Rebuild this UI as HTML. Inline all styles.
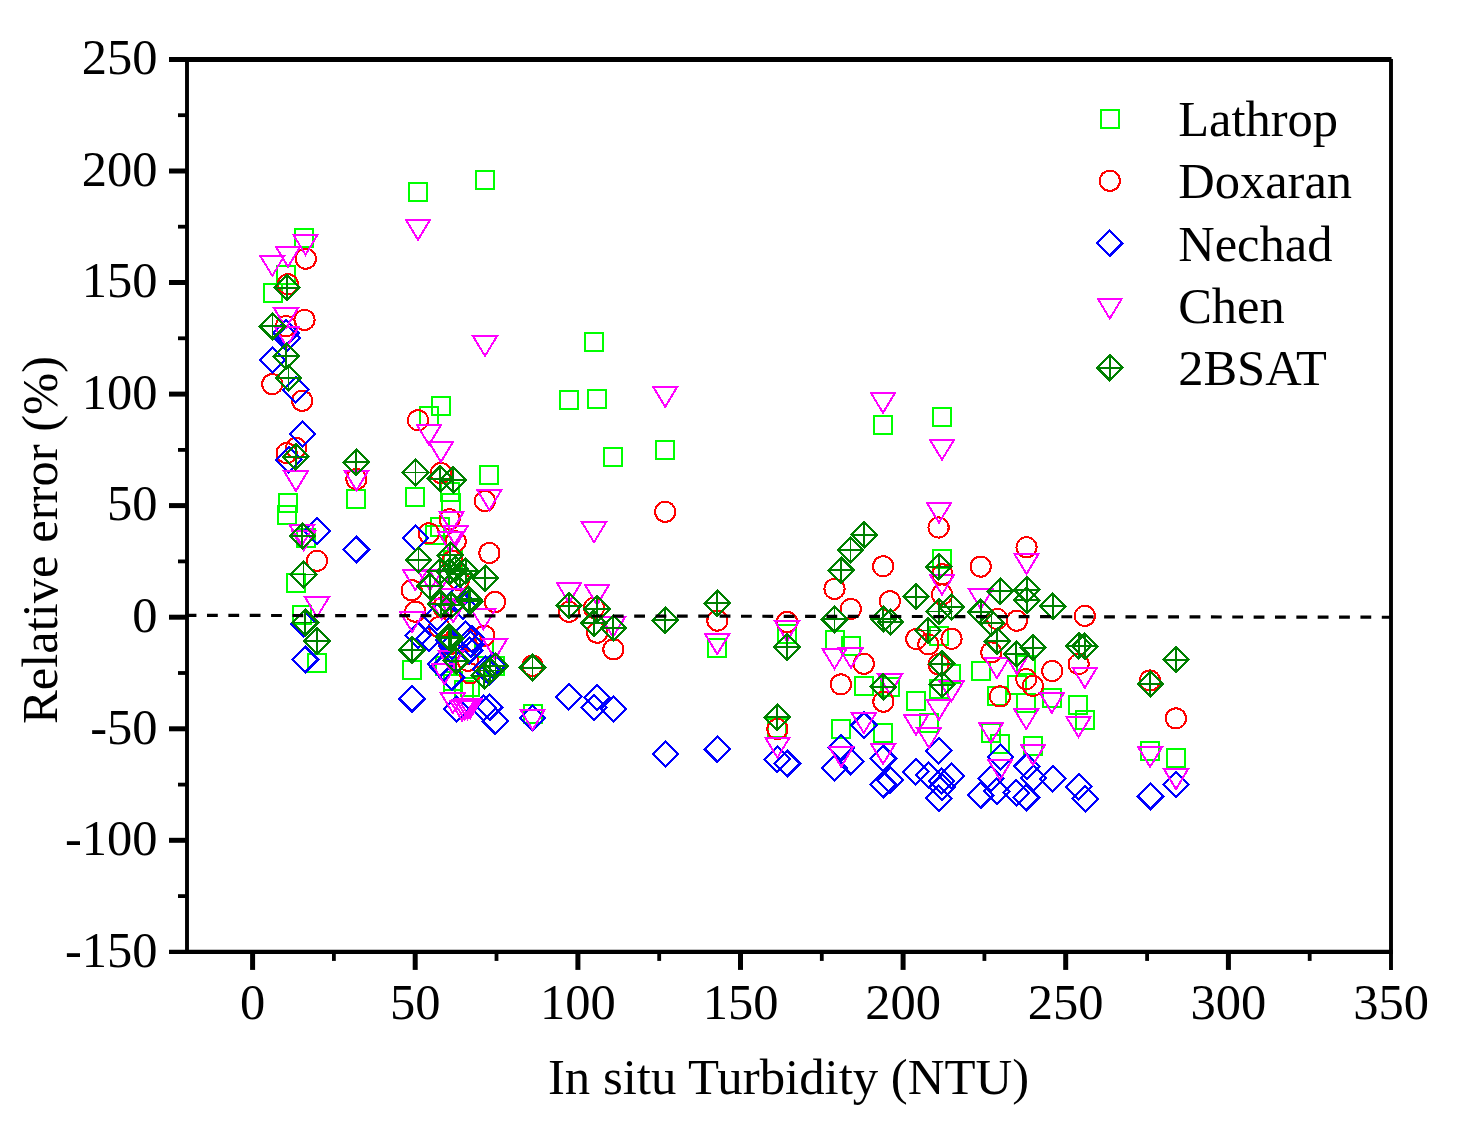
<!DOCTYPE html><html><head><meta charset="utf-8"><title>Relative error vs In situ Turbidity</title>
<style>html,body{margin:0;padding:0;background:#fff}svg{display:block}text{font-family:"Liberation Serif",serif;fill:#000}</style></head><body>
<svg width="1462" height="1124" viewBox="0 0 1462 1124">
<rect width="1462" height="1124" fill="#fff"/>
<defs>
<rect id="mL" x="-9" y="-9" width="18" height="18" fill="none" stroke="#00ff00" stroke-width="2.0"/>
<circle id="mD" r="10.1" fill="none" stroke="#ff0000" stroke-width="2.0"/>
<path id="mN" d="M0-12.6L12.6 0L0 12.6L-12.6 0Z" fill="none" stroke="#0000ff" stroke-width="2.2" stroke-linejoin="miter"/>
<path id="mC" d="M-12 -10.4L12 -10.4L0 9.5Z" fill="none" stroke="#ff00ff" stroke-width="2.0" stroke-linejoin="miter"/>
<g id="mB" fill="none" stroke="#008000"><path d="M0-12.6L12.6 0L0 12.6L-12.6 0Z" stroke-width="2.2"/><path d="M0-12.6V12.6M-12.6 0H12.6" stroke-width="1.9"/></g>
</defs>
<g shape-rendering="crispEdges">
<use href="#mL" x="303.8" y="238.0"/>
<use href="#mL" x="286.0" y="275.1"/>
<use href="#mL" x="272.5" y="293.0"/>
<use href="#mL" x="356.0" y="499.0"/>
<use href="#mL" x="287.9" y="502.5"/>
<use href="#mL" x="286.9" y="515.0"/>
<use href="#mL" x="305.9" y="538.0"/>
<use href="#mL" x="295.9" y="583.0"/>
<use href="#mL" x="302.0" y="615.0"/>
<use href="#mL" x="316.9" y="662.9"/>
<use href="#mL" x="417.8" y="192.4"/>
<use href="#mL" x="484.8" y="180.0"/>
<use href="#mL" x="440.9" y="405.9"/>
<use href="#mL" x="429.1" y="415.9"/>
<use href="#mL" x="488.9" y="475.0"/>
<use href="#mL" x="415.4" y="497.0"/>
<use href="#mL" x="450.1" y="492.0"/>
<use href="#mL" x="451.4" y="503.3"/>
<use href="#mL" x="440.0" y="527.0"/>
<use href="#mL" x="435.0" y="534.8"/>
<use href="#mL" x="412.0" y="669.9"/>
<use href="#mL" x="445.0" y="666.3"/>
<use href="#mL" x="452.5" y="683.5"/>
<use href="#mL" x="470.1" y="687.0"/>
<use href="#mL" x="464.0" y="690.0"/>
<use href="#mL" x="495.0" y="666.0"/>
<use href="#mL" x="453.0" y="560.0"/>
<use href="#mL" x="453.3" y="681.3"/>
<use href="#mL" x="484.2" y="648.1"/>
<use href="#mL" x="593.8" y="342.4"/>
<use href="#mL" x="569.0" y="399.8"/>
<use href="#mL" x="597.0" y="399.0"/>
<use href="#mL" x="613.0" y="456.8"/>
<use href="#mL" x="665.0" y="449.8"/>
<use href="#mL" x="716.8" y="647.8"/>
<use href="#mL" x="787.0" y="634.4"/>
<use href="#mL" x="532.7" y="713.7"/>
<use href="#mL" x="777.4" y="728.0"/>
<use href="#mL" x="883.0" y="424.8"/>
<use href="#mL" x="942.0" y="417.0"/>
<use href="#mL" x="942.0" y="558.8"/>
<use href="#mL" x="834.9" y="639.9"/>
<use href="#mL" x="851.0" y="646.0"/>
<use href="#mL" x="863.9" y="685.9"/>
<use href="#mL" x="890.1" y="686.9"/>
<use href="#mL" x="916.0" y="700.9"/>
<use href="#mL" x="840.9" y="729.0"/>
<use href="#mL" x="883.0" y="733.0"/>
<use href="#mL" x="939.0" y="636.0"/>
<use href="#mL" x="980.9" y="671.0"/>
<use href="#mL" x="951.1" y="673.8"/>
<use href="#mL" x="939.0" y="688.8"/>
<use href="#mL" x="1017.0" y="684.9"/>
<use href="#mL" x="996.9" y="695.9"/>
<use href="#mL" x="1026.2" y="703.1"/>
<use href="#mL" x="1025.5" y="665.0"/>
<use href="#mL" x="929.0" y="723.0"/>
<use href="#mL" x="990.9" y="732.9"/>
<use href="#mL" x="1000.0" y="744.1"/>
<use href="#mL" x="1033.0" y="745.9"/>
<use href="#mL" x="1052.1" y="697.9"/>
<use href="#mL" x="1078.4" y="704.8"/>
<use href="#mL" x="1084.9" y="720.0"/>
<use href="#mL" x="1150.0" y="750.5"/>
<use href="#mL" x="1176.0" y="757.8"/>
</g>
<g shape-rendering="crispEdges">
<use href="#mD" x="305.8" y="258.7"/>
<use href="#mD" x="287.9" y="284.2"/>
<use href="#mD" x="304.5" y="319.9"/>
<use href="#mD" x="286.0" y="326.1"/>
<use href="#mD" x="272.3" y="384.1"/>
<use href="#mD" x="302.2" y="400.8"/>
<use href="#mD" x="296.1" y="448.0"/>
<use href="#mD" x="286.6" y="453.1"/>
<use href="#mD" x="356.4" y="479.1"/>
<use href="#mD" x="317.0" y="560.8"/>
<use href="#mD" x="418.0" y="420.3"/>
<use href="#mD" x="440.9" y="473.0"/>
<use href="#mD" x="484.9" y="501.0"/>
<use href="#mD" x="449.6" y="519.2"/>
<use href="#mD" x="428.8" y="533.3"/>
<use href="#mD" x="455.7" y="541.4"/>
<use href="#mD" x="489.4" y="553.0"/>
<use href="#mD" x="411.7" y="590.2"/>
<use href="#mD" x="415.2" y="611.6"/>
<use href="#mD" x="495.0" y="602.0"/>
<use href="#mD" x="484.4" y="635.8"/>
<use href="#mD" x="467.9" y="660.8"/>
<use href="#mD" x="470.0" y="673.4"/>
<use href="#mD" x="439.2" y="627.0"/>
<use href="#mD" x="459.0" y="580.0"/>
<use href="#mD" x="443.4" y="607.0"/>
<use href="#mD" x="449.4" y="644.3"/>
<use href="#mD" x="452.4" y="561.0"/>
<use href="#mD" x="471.3" y="640.5"/>
<use href="#mD" x="665.2" y="511.8"/>
<use href="#mD" x="569.0" y="611.8"/>
<use href="#mD" x="594.0" y="607.8"/>
<use href="#mD" x="597.2" y="632.7"/>
<use href="#mD" x="613.4" y="649.3"/>
<use href="#mD" x="717.4" y="620.6"/>
<use href="#mD" x="787.0" y="622.0"/>
<use href="#mD" x="532.5" y="665.8"/>
<use href="#mD" x="777.4" y="729.0"/>
<use href="#mD" x="938.6" y="527.5"/>
<use href="#mD" x="1026.5" y="547.2"/>
<use href="#mD" x="883.1" y="566.3"/>
<use href="#mD" x="980.7" y="566.6"/>
<use href="#mD" x="834.5" y="588.9"/>
<use href="#mD" x="850.8" y="609.0"/>
<use href="#mD" x="889.9" y="601.2"/>
<use href="#mD" x="863.8" y="663.8"/>
<use href="#mD" x="840.9" y="684.4"/>
<use href="#mD" x="883.4" y="701.7"/>
<use href="#mD" x="916.3" y="639.0"/>
<use href="#mD" x="942.4" y="574.3"/>
<use href="#mD" x="942.0" y="594.5"/>
<use href="#mD" x="997.3" y="619.0"/>
<use href="#mD" x="1016.9" y="620.7"/>
<use href="#mD" x="951.5" y="638.8"/>
<use href="#mD" x="928.3" y="644.4"/>
<use href="#mD" x="938.6" y="664.4"/>
<use href="#mD" x="991.3" y="652.4"/>
<use href="#mD" x="1000.0" y="696.4"/>
<use href="#mD" x="1026.2" y="679.1"/>
<use href="#mD" x="1032.9" y="685.9"/>
<use href="#mD" x="1084.8" y="615.9"/>
<use href="#mD" x="1052.2" y="671.0"/>
<use href="#mD" x="1078.6" y="664.1"/>
<use href="#mD" x="1149.9" y="680.5"/>
<use href="#mD" x="1175.9" y="718.4"/>
</g>
<g shape-rendering="crispEdges">
<use href="#mN" x="286.0" y="332.9"/>
<use href="#mN" x="287.2" y="338.1"/>
<use href="#mN" x="272.5" y="360.1"/>
<use href="#mN" x="295.9" y="389.9"/>
<use href="#mN" x="302.4" y="433.8"/>
<use href="#mN" x="288.6" y="459.6"/>
<use href="#mN" x="317.0" y="531.0"/>
<use href="#mN" x="356.4" y="549.5"/>
<use href="#mN" x="303.8" y="623.8"/>
<use href="#mN" x="305.4" y="659.5"/>
<use href="#mN" x="415.5" y="538.1"/>
<use href="#mN" x="412.0" y="698.9"/>
<use href="#mN" x="456.3" y="709.1"/>
<use href="#mN" x="483.4" y="707.8"/>
<use href="#mN" x="489.6" y="707.3"/>
<use href="#mN" x="495.4" y="721.3"/>
<use href="#mN" x="418.1" y="635.2"/>
<use href="#mN" x="429.0" y="638.3"/>
<use href="#mN" x="465.3" y="634.1"/>
<use href="#mN" x="437.0" y="617.0"/>
<use href="#mN" x="458.0" y="598.0"/>
<use href="#mN" x="463.0" y="606.0"/>
<use href="#mN" x="470.6" y="644.3"/>
<use href="#mN" x="469.5" y="650.4"/>
<use href="#mN" x="472.0" y="639.0"/>
<use href="#mN" x="440.4" y="664.0"/>
<use href="#mN" x="443.4" y="667.7"/>
<use href="#mN" x="451.7" y="677.2"/>
<use href="#mN" x="448.5" y="640.0"/>
<use href="#mN" x="452.0" y="646.0"/>
<use href="#mN" x="485.7" y="669.3"/>
<use href="#mN" x="493.3" y="665.5"/>
<use href="#mN" x="489.5" y="672.0"/>
<use href="#mN" x="568.6" y="696.6"/>
<use href="#mN" x="597.0" y="697.6"/>
<use href="#mN" x="594.0" y="707.6"/>
<use href="#mN" x="613.4" y="709.0"/>
<use href="#mN" x="532.6" y="718.0"/>
<use href="#mN" x="665.4" y="754.0"/>
<use href="#mN" x="717.4" y="749.3"/>
<use href="#mN" x="777.4" y="759.4"/>
<use href="#mN" x="787.4" y="763.5"/>
<use href="#mN" x="864.0" y="725.1"/>
<use href="#mN" x="841.4" y="747.6"/>
<use href="#mN" x="834.5" y="768.1"/>
<use href="#mN" x="850.9" y="761.8"/>
<use href="#mN" x="883.4" y="758.5"/>
<use href="#mN" x="883.4" y="784.5"/>
<use href="#mN" x="890.1" y="780.1"/>
<use href="#mN" x="915.9" y="771.9"/>
<use href="#mN" x="938.6" y="750.6"/>
<use href="#mN" x="928.8" y="775.0"/>
<use href="#mN" x="951.5" y="775.7"/>
<use href="#mN" x="941.7" y="780.9"/>
<use href="#mN" x="942.1" y="787.1"/>
<use href="#mN" x="938.8" y="798.2"/>
<use href="#mN" x="1000.4" y="757.0"/>
<use href="#mN" x="1026.7" y="766.4"/>
<use href="#mN" x="990.8" y="778.6"/>
<use href="#mN" x="980.8" y="795.1"/>
<use href="#mN" x="996.9" y="791.1"/>
<use href="#mN" x="1016.4" y="792.6"/>
<use href="#mN" x="1026.4" y="797.5"/>
<use href="#mN" x="1033.5" y="777.9"/>
<use href="#mN" x="1052.6" y="778.6"/>
<use href="#mN" x="1078.6" y="786.6"/>
<use href="#mN" x="1085.1" y="798.9"/>
<use href="#mN" x="1150.5" y="796.4"/>
<use href="#mN" x="1176.0" y="784.8"/>
</g>
<g shape-rendering="crispEdges">
<use href="#mC" x="305.5" y="245.3"/>
<use href="#mC" x="288.0" y="257.3"/>
<use href="#mC" x="272.3" y="266.3"/>
<use href="#mC" x="286.0" y="318.5"/>
<use href="#mC" x="286.8" y="337.4"/>
<use href="#mC" x="295.9" y="481.5"/>
<use href="#mC" x="356.4" y="481.0"/>
<use href="#mC" x="302.0" y="535.8"/>
<use href="#mC" x="303.8" y="540.9"/>
<use href="#mC" x="317.0" y="607.5"/>
<use href="#mC" x="418.0" y="230.3"/>
<use href="#mC" x="485.0" y="346.5"/>
<use href="#mC" x="429.0" y="435.4"/>
<use href="#mC" x="440.9" y="452.5"/>
<use href="#mC" x="489.4" y="500.5"/>
<use href="#mC" x="451.5" y="522.5"/>
<use href="#mC" x="455.6" y="536.6"/>
<use href="#mC" x="450.1" y="542.5"/>
<use href="#mC" x="415.2" y="580.5"/>
<use href="#mC" x="412.2" y="622.5"/>
<use href="#mC" x="483.4" y="619.8"/>
<use href="#mC" x="495.0" y="649.6"/>
<use href="#mC" x="451.4" y="598.9"/>
<use href="#mC" x="441.6" y="609.6"/>
<use href="#mC" x="450.9" y="661.7"/>
<use href="#mC" x="444.4" y="674.8"/>
<use href="#mC" x="452.8" y="703.5"/>
<use href="#mC" x="462.1" y="711.1"/>
<use href="#mC" x="464.7" y="710.2"/>
<use href="#mC" x="467.4" y="709.3"/>
<use href="#mC" x="470.1" y="708.9"/>
<use href="#mC" x="430.0" y="581.0"/>
<use href="#mC" x="453.2" y="612.6"/>
<use href="#mC" x="441.0" y="580.0"/>
<use href="#mC" x="665.2" y="397.3"/>
<use href="#mC" x="594.0" y="532.8"/>
<use href="#mC" x="569.0" y="593.4"/>
<use href="#mC" x="597.0" y="595.3"/>
<use href="#mC" x="613.0" y="627.5"/>
<use href="#mC" x="717.2" y="644.6"/>
<use href="#mC" x="787.0" y="631.6"/>
<use href="#mC" x="532.6" y="720.4"/>
<use href="#mC" x="777.4" y="748.2"/>
<use href="#mC" x="883.0" y="403.4"/>
<use href="#mC" x="942.0" y="450.2"/>
<use href="#mC" x="939.0" y="513.2"/>
<use href="#mC" x="1026.5" y="564.5"/>
<use href="#mC" x="834.5" y="659.3"/>
<use href="#mC" x="850.9" y="658.3"/>
<use href="#mC" x="890.0" y="684.6"/>
<use href="#mC" x="863.8" y="723.5"/>
<use href="#mC" x="916.1" y="725.4"/>
<use href="#mC" x="841.2" y="757.3"/>
<use href="#mC" x="883.1" y="754.4"/>
<use href="#mC" x="942.0" y="585.2"/>
<use href="#mC" x="980.8" y="599.4"/>
<use href="#mC" x="996.9" y="668.6"/>
<use href="#mC" x="1016.9" y="664.5"/>
<use href="#mC" x="951.5" y="691.7"/>
<use href="#mC" x="938.8" y="710.4"/>
<use href="#mC" x="1026.2" y="719.5"/>
<use href="#mC" x="928.9" y="738.3"/>
<use href="#mC" x="991.0" y="733.4"/>
<use href="#mC" x="1000.1" y="770.1"/>
<use href="#mC" x="1033.0" y="755.3"/>
<use href="#mC" x="1084.8" y="678.4"/>
<use href="#mC" x="1051.9" y="703.4"/>
<use href="#mC" x="1078.5" y="727.5"/>
<use href="#mC" x="1150.1" y="757.4"/>
<use href="#mC" x="1176.0" y="779.6"/>
</g>
<g shape-rendering="crispEdges">
<use href="#mB" x="287.0" y="287.8"/>
<use href="#mB" x="272.5" y="326.4"/>
<use href="#mB" x="286.3" y="356.3"/>
<use href="#mB" x="288.5" y="377.7"/>
<use href="#mB" x="295.9" y="456.9"/>
<use href="#mB" x="356.4" y="462.4"/>
<use href="#mB" x="302.4" y="536.2"/>
<use href="#mB" x="303.5" y="574.5"/>
<use href="#mB" x="305.4" y="622.5"/>
<use href="#mB" x="317.0" y="641.0"/>
<use href="#mB" x="415.5" y="472.5"/>
<use href="#mB" x="440.4" y="478.7"/>
<use href="#mB" x="453.2" y="479.8"/>
<use href="#mB" x="450.1" y="555.1"/>
<use href="#mB" x="418.5" y="560.3"/>
<use href="#mB" x="429.8" y="586.3"/>
<use href="#mB" x="485.2" y="578.2"/>
<use href="#mB" x="469.9" y="601.4"/>
<use href="#mB" x="468.7" y="599.3"/>
<use href="#mB" x="440.9" y="604.0"/>
<use href="#mB" x="465.7" y="571.0"/>
<use href="#mB" x="440.1" y="571.3"/>
<use href="#mB" x="449.4" y="571.5"/>
<use href="#mB" x="455.5" y="569.0"/>
<use href="#mB" x="460.0" y="574.3"/>
<use href="#mB" x="451.1" y="605.2"/>
<use href="#mB" x="448.7" y="636.8"/>
<use href="#mB" x="450.6" y="638.3"/>
<use href="#mB" x="412.0" y="649.9"/>
<use href="#mB" x="456.3" y="660.6"/>
<use href="#mB" x="495.5" y="666.3"/>
<use href="#mB" x="484.1" y="675.9"/>
<use href="#mB" x="490.3" y="670.5"/>
<use href="#mB" x="569.0" y="605.8"/>
<use href="#mB" x="597.0" y="609.0"/>
<use href="#mB" x="593.9" y="623.2"/>
<use href="#mB" x="613.4" y="628.2"/>
<use href="#mB" x="665.4" y="620.4"/>
<use href="#mB" x="717.4" y="603.4"/>
<use href="#mB" x="787.0" y="647.0"/>
<use href="#mB" x="532.5" y="667.6"/>
<use href="#mB" x="777.4" y="717.4"/>
<use href="#mB" x="864.2" y="534.8"/>
<use href="#mB" x="850.5" y="550.0"/>
<use href="#mB" x="841.3" y="570.4"/>
<use href="#mB" x="834.5" y="619.4"/>
<use href="#mB" x="915.9" y="596.7"/>
<use href="#mB" x="883.4" y="619.2"/>
<use href="#mB" x="890.5" y="621.9"/>
<use href="#mB" x="883.4" y="686.6"/>
<use href="#mB" x="938.6" y="566.6"/>
<use href="#mB" x="951.5" y="607.0"/>
<use href="#mB" x="939.0" y="611.5"/>
<use href="#mB" x="928.3" y="630.5"/>
<use href="#mB" x="980.8" y="612.3"/>
<use href="#mB" x="1000.4" y="591.4"/>
<use href="#mB" x="1026.7" y="589.6"/>
<use href="#mB" x="1026.7" y="600.3"/>
<use href="#mB" x="991.5" y="623.3"/>
<use href="#mB" x="1052.6" y="606.4"/>
<use href="#mB" x="941.7" y="663.8"/>
<use href="#mB" x="942.0" y="684.8"/>
<use href="#mB" x="997.3" y="641.2"/>
<use href="#mB" x="1016.4" y="654.1"/>
<use href="#mB" x="1033.0" y="647.8"/>
<use href="#mB" x="1078.6" y="645.6"/>
<use href="#mB" x="1084.8" y="646.3"/>
<use href="#mB" x="1175.9" y="659.6"/>
<use href="#mB" x="1150.4" y="684.1"/>
</g>
<line x1="185.64" y1="615.35" x2="1391.0" y2="617.25" stroke="#000" stroke-width="3.2" stroke-dasharray="10.8 10.56"/>
<g stroke="#000" fill="none" stroke-linecap="butt">
<line x1="169.0" y1="59.4" x2="1391.5" y2="59.4" stroke-width="5"/>
<line x1="169.0" y1="951.9" x2="1392.95" y2="951.9" stroke-width="4.1"/>
<line x1="187.0" y1="59.4" x2="187.0" y2="951.9" stroke-width="3.9"/>
<line x1="1391.0" y1="58.9" x2="1391.0" y2="969.9" stroke-width="3.9"/>
<line x1="178.0" y1="896.1" x2="187.0" y2="896.1" stroke-width="3.8"/>
<line x1="169.0" y1="840.3" x2="187.0" y2="840.3" stroke-width="5"/>
<line x1="178.0" y1="784.6" x2="187.0" y2="784.6" stroke-width="3.8"/>
<line x1="169.0" y1="728.8" x2="187.0" y2="728.8" stroke-width="5"/>
<line x1="178.0" y1="673.0" x2="187.0" y2="673.0" stroke-width="3.8"/>
<line x1="169.0" y1="617.2" x2="187.0" y2="617.2" stroke-width="5"/>
<line x1="178.0" y1="561.4" x2="187.0" y2="561.4" stroke-width="3.8"/>
<line x1="169.0" y1="505.6" x2="187.0" y2="505.6" stroke-width="5"/>
<line x1="178.0" y1="449.9" x2="187.0" y2="449.9" stroke-width="3.8"/>
<line x1="169.0" y1="394.1" x2="187.0" y2="394.1" stroke-width="5"/>
<line x1="178.0" y1="338.3" x2="187.0" y2="338.3" stroke-width="3.8"/>
<line x1="169.0" y1="282.5" x2="187.0" y2="282.5" stroke-width="5"/>
<line x1="178.0" y1="226.7" x2="187.0" y2="226.7" stroke-width="3.8"/>
<line x1="169.0" y1="171.0" x2="187.0" y2="171.0" stroke-width="5"/>
<line x1="178.0" y1="115.2" x2="187.0" y2="115.2" stroke-width="3.8"/>
<line x1="252.6" y1="951.9" x2="252.6" y2="969.9" stroke-width="5"/>
<line x1="333.9" y1="951.9" x2="333.9" y2="960.9" stroke-width="3.8"/>
<line x1="415.2" y1="951.9" x2="415.2" y2="969.9" stroke-width="5"/>
<line x1="496.5" y1="951.9" x2="496.5" y2="960.9" stroke-width="3.8"/>
<line x1="577.9" y1="951.9" x2="577.9" y2="969.9" stroke-width="5"/>
<line x1="659.2" y1="951.9" x2="659.2" y2="960.9" stroke-width="3.8"/>
<line x1="740.5" y1="951.9" x2="740.5" y2="969.9" stroke-width="5"/>
<line x1="821.8" y1="951.9" x2="821.8" y2="960.9" stroke-width="3.8"/>
<line x1="903.1" y1="951.9" x2="903.1" y2="969.9" stroke-width="5"/>
<line x1="984.4" y1="951.9" x2="984.4" y2="960.9" stroke-width="3.8"/>
<line x1="1065.7" y1="951.9" x2="1065.7" y2="969.9" stroke-width="5"/>
<line x1="1147.1" y1="951.9" x2="1147.1" y2="960.9" stroke-width="3.8"/>
<line x1="1228.4" y1="951.9" x2="1228.4" y2="969.9" stroke-width="5"/>
<line x1="1309.7" y1="951.9" x2="1309.7" y2="960.9" stroke-width="3.8"/>
</g>
<g font-size="50.5" text-anchor="end">
<text x="157.6" y="966.6">-150</text>
<text x="157.6" y="855.0">-100</text>
<text x="157.6" y="743.5">-50</text>
<text x="157.6" y="631.9">0</text>
<text x="157.6" y="520.4">50</text>
<text x="157.6" y="408.8">100</text>
<text x="157.6" y="297.2">150</text>
<text x="157.6" y="185.7">200</text>
<text x="157.6" y="74.1">250</text>
</g>
<g font-size="50.5" text-anchor="middle">
<text x="252.6" y="1019.4">0</text>
<text x="415.2" y="1019.4">50</text>
<text x="577.9" y="1019.4">100</text>
<text x="740.5" y="1019.4">150</text>
<text x="903.1" y="1019.4">200</text>
<text x="1065.7" y="1019.4">250</text>
<text x="1228.4" y="1019.4">300</text>
<text x="1391.0" y="1019.4">350</text>
</g>
<text x="788.5" y="1094.1" font-size="50.8" text-anchor="middle">In situ Turbidity (NTU)</text>
<text transform="translate(57.0 540.0) rotate(-90)" font-size="50.6" text-anchor="middle">Relative error (%)</text>
<use href="#mL" x="1109.8" y="118.5" shape-rendering="crispEdges"/>
<text x="1178.2" y="136.0" font-size="50.5">Lathrop</text>
<use href="#mD" x="1109.8" y="180.8" shape-rendering="crispEdges"/>
<text x="1178.2" y="198.3" font-size="50.5">Doxaran</text>
<use href="#mN" x="1109.8" y="243.1" shape-rendering="crispEdges"/>
<text x="1178.2" y="260.6" font-size="50.5">Nechad</text>
<use href="#mC" x="1109.8" y="309.1" shape-rendering="crispEdges"/>
<text x="1178.2" y="322.9" font-size="50.5">Chen</text>
<use href="#mB" x="1109.8" y="367.7" shape-rendering="crispEdges"/>
<text x="1178.2" y="385.2" font-size="50.5">2BSAT</text>
</svg></body></html>
